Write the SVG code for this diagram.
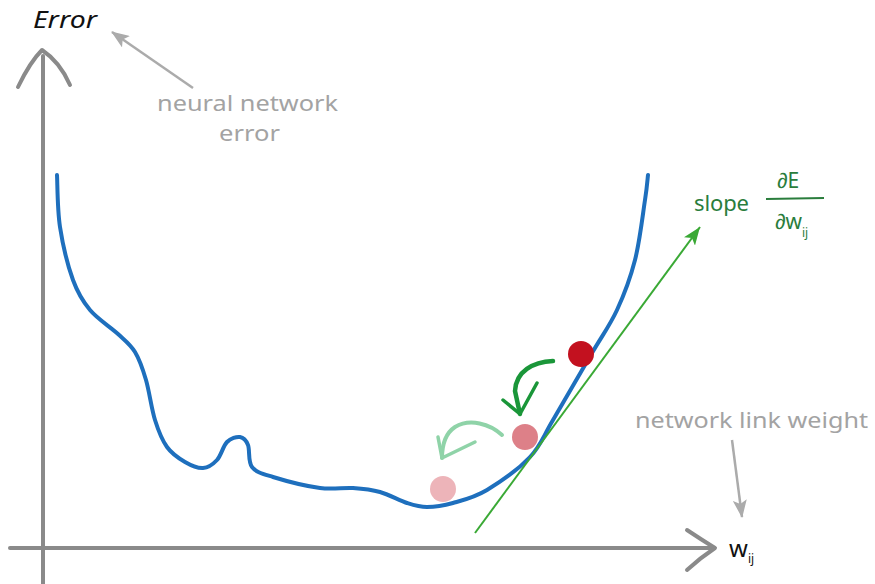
<svg xmlns="http://www.w3.org/2000/svg" width="875" height="584" viewBox="0 0 875 584">
  <style>
    .axis { stroke: #8a8a8a; stroke-width: 4; fill: none; stroke-linecap: round; stroke-linejoin: round; }
    .curve { stroke: #1e6fbd; stroke-width: 4; fill: none; stroke-linecap: round; stroke-linejoin: round; }
    .note { font-family: "Noto Sans", "Liberation Sans", sans-serif; font-size: 22px; fill: #a3a3a3; }
    .lbl { font-family: "Noto Sans", "Liberation Sans", sans-serif; fill: #111; }
    .slope { font-family: "Noto Sans", "Liberation Sans", sans-serif; fill: #2a7d3c; }
    .garrow { stroke: #ababab; stroke-width: 2.5; fill: none; }
    .tangent { stroke: #3aa935; stroke-width: 2; fill: none; }
  </style>
  <defs>
    <marker id="grayHead" viewBox="0 0 18 14" refX="17" refY="7" markerWidth="18" markerHeight="14" markerUnits="userSpaceOnUse" orient="auto">
      <path d="M0,0 L18,7 L0,14 L4,7 Z" fill="#ababab"/>
    </marker>
    <marker id="greenHead" viewBox="0 0 10 10" refX="10" refY="5" markerWidth="18" markerHeight="14" markerUnits="userSpaceOnUse" orient="auto" preserveAspectRatio="none">
      <path d="M0,0 L10,5 L0,10 L2.5,5 Z" fill="#3aa935"/>
    </marker>
  </defs>
  <rect width="875" height="584" fill="#ffffff"/>

  <g id="axes">
    <line class="axis" x1="43" y1="56" x2="43" y2="584"/>
    <path class="axis" d="M18,87 Q30,62 42,50 Q60,62 70,85"/>
    <line class="axis" x1="10" y1="548" x2="713" y2="548"/>
    <path class="axis" d="M687,530 Q702,540 715,548 Q700,558 687,570"/>
  </g>

  <g id="error-curve">
    <path class="curve" d="M57,175 C57.5,183.7 57.3,209.5 60,227 C62.7,244.5 68,266.2 73,280 C78,293.8 82.5,301 90,310 C97.5,319 110.5,327 118,334 C125.5,341 130.3,344.3 135,352 C139.7,359.7 142.7,368.7 146,380 C149.3,391.3 151.5,408.8 155,420 C158.5,431.2 162,440 167,447 C172,454 179,458.5 185,462 C191,465.5 197.7,468.3 203,468 C208.3,467.7 213,464.3 217,460 C221,455.7 223.2,445.8 227,442 C230.8,438.2 236.5,436.5 240,437 C243.5,437.5 246,440 248,445 C250,450 247.8,461.7 252,467 C256.2,472.3 261.7,473.5 273,477 C284.3,480.5 306.7,486.2 320,488 C333.3,489.8 343,487.3 353,488 C363,488.7 371,489.5 380,492 C389,494.5 399.2,500.5 407,503 C414.8,505.5 419.3,507 427,507 C434.7,507 443,505.8 453,503 C463,500.2 474.2,497.7 487,490 C499.8,482.3 519,468.7 530,457 C541,445.3 542.7,437.3 553,420 C563.3,402.7 581.3,371.3 592,353 C602.7,334.7 609.8,325.5 617,310 C624.2,294.5 630.3,278.3 635,260 C639.7,241.7 642.8,214.2 645,200 C647.2,185.8 647.5,179.2 648,175"/>
  </g>

  <g id="connectors">
    <line class="tangent" x1="475" y1="533" x2="700" y2="227" marker-end="url(#greenHead)"/>
    <line class="garrow" x1="193" y1="88" x2="112" y2="32" marker-end="url(#grayHead)"/>
    <line class="garrow" x1="732" y1="440" x2="742" y2="517" marker-end="url(#grayHead)"/>
    <g id="step-arrow-1" fill="none" stroke="#1a9639" stroke-width="4.5" stroke-linecap="round" stroke-linejoin="round">
      <path d="M553,361 C533,362 516,371 515,391 L520,414"/>
      <path d="M503,400 L520,414 L537,383" stroke-width="3.5"/>
    </g>
    <g id="step-arrow-2" fill="none" stroke="#8fd3a8" stroke-width="4" stroke-linecap="round" stroke-linejoin="round">
      <path d="M502,435 C490,424 470,418 455,427 C446,433 442,445 442,458"/>
      <path d="M438,437 L442,458 L475,442" stroke-width="3.5"/>
    </g>
  </g>

  <g id="dots">
    <circle id="dot-1" cx="581" cy="354" r="13" fill="#c3111f"/>
    <circle id="dot-2" cx="525" cy="437" r="13" fill="#dd8088"/>
    <circle id="dot-3" cx="443" cy="489" r="13" fill="#edb4b9"/>
  </g>

  <g id="labels">
    <text id="y-label" class="lbl" x="33" y="28" font-size="23" font-style="italic" textLength="64" lengthAdjust="spacingAndGlyphs">Error</text>
    <text id="y-note-1" class="note" x="157" y="111" font-size="21" textLength="181" lengthAdjust="spacingAndGlyphs">neural network</text>
    <text id="y-note-2" class="note" x="219" y="141" font-size="21" textLength="61" lengthAdjust="spacingAndGlyphs">error</text>
    <text id="x-note" class="note" x="635" y="428" textLength="233" lengthAdjust="spacingAndGlyphs">network link weight</text>
    <text id="x-label" class="lbl" x="729" y="557" font-size="24">w<tspan font-size="12" dy="6">ij</tspan></text>
    <g id="slope-label">
      <text class="slope" x="694" y="211" font-size="22" textLength="55">slope</text>
      <text class="slope" x="777" y="188" font-size="21">∂E</text>
      <line x1="766" y1="199" x2="824" y2="198" stroke="#2a7d3c" stroke-width="2"/>
      <text class="slope" x="775" y="229" font-size="21">∂w<tspan font-size="12" dy="8">ij</tspan></text>
    </g>
  </g>
</svg>
